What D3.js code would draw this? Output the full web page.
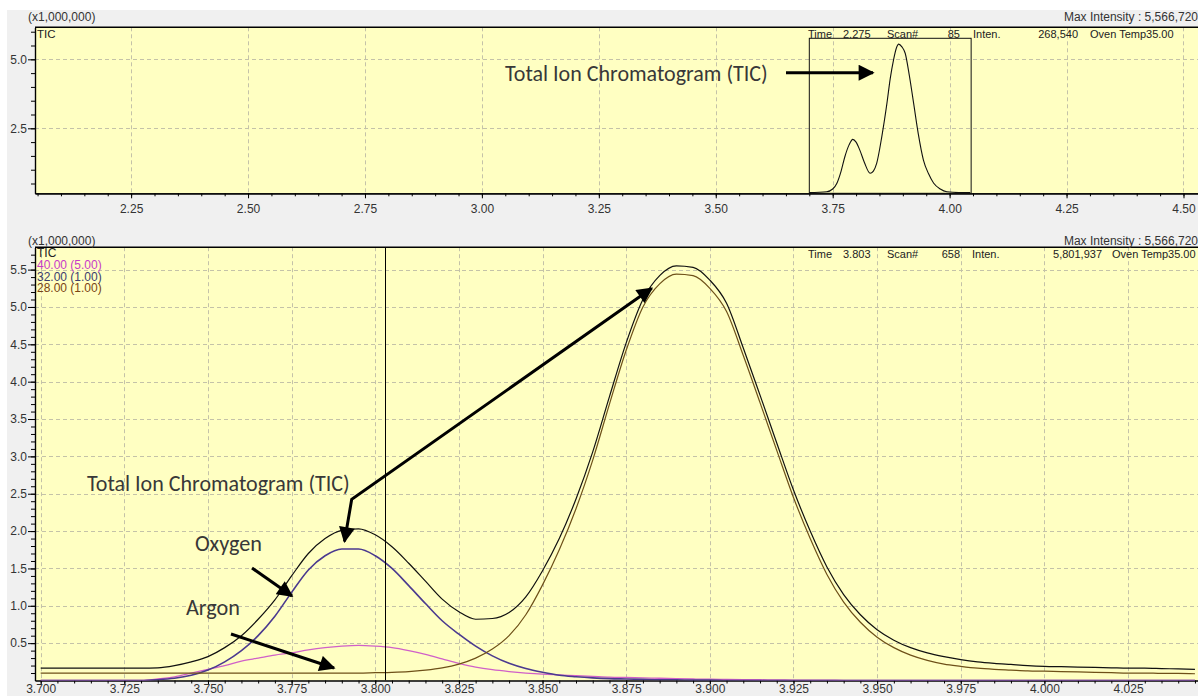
<!DOCTYPE html>
<html>
<head>
<meta charset="utf-8">
<script src="https://cdn.jsdelivr.net/npm/d3@7"></script>
<style>
  html, body { margin: 0; padding: 0; background: #ffffff; }
  svg { display: block; }
</style>
</head>
<body>
<svg id="chart" width="1198" height="696"></svg>
<script>
// ---------- data (intensities in millions of counts) ----------
// overview TIC trace, coarse scan
const overviewTime = [3.700, 3.737, 3.750, 3.759, 3.768, 3.776, 3.785, 3.793, 3.800, 3.808, 3.818, 3.830, 3.837, 3.844,
  3.855, 3.866, 3.873, 3.880, 3.886, 3.891, 3.898, 3.905, 3.914, 3.923, 3.933, 3.944, 3.955, 3.966, 3.980, 3.994, 4.020, 4.044];
const overviewTic = [0.17, 0.20, 0.30, 0.51, 0.95, 1.47, 1.90, 2.10, 2.00, 1.71, 1.25, 0.87, 0.95, 1.23,
  2.20, 3.41, 4.30, 4.97, 5.40, 5.55, 5.45, 5.22, 4.40, 3.41, 2.30, 1.35, 0.85, 0.51, 0.30, 0.20, 0.17, 0.17];

// detail window, retention time in minutes
const scanTime = [3.700, 3.705, 3.710, 3.715, 3.720, 3.725, 3.730, 3.735, 3.740, 3.745,
  3.750, 3.755, 3.760, 3.765, 3.770, 3.775, 3.780, 3.785, 3.790, 3.795,
  3.800, 3.805, 3.810, 3.815, 3.820, 3.825, 3.830, 3.835, 3.840, 3.845,
  3.850, 3.855, 3.860, 3.865, 3.870, 3.875, 3.880, 3.885, 3.890, 3.895,
  3.900, 3.905, 3.910, 3.915, 3.920, 3.925, 3.930, 3.935, 3.940, 3.945,
  3.950, 3.955, 3.960, 3.965, 3.970, 3.975, 3.980, 3.985, 3.990, 3.995,
  4.000, 4.005, 4.010, 4.015, 4.020, 4.025, 4.030, 4.035, 4.040, 4.045];
const ticSignal = [0.165, 0.165, 0.165, 0.165, 0.165, 0.165, 0.165, 0.17, 0.20, 0.25,
  0.32, 0.44, 0.60, 0.82, 1.08, 1.40, 1.70, 1.90, 2.01, 2.03,
  1.95, 1.79, 1.57, 1.33, 1.09, 0.92, 0.82, 0.83, 0.91, 1.12,
  1.47, 1.90, 2.43, 3.06, 3.80, 4.52, 5.10, 5.42, 5.55, 5.53,
  5.36, 5.05, 4.45, 3.82, 3.18, 2.55, 2.00, 1.52, 1.15, 0.88,
  0.68, 0.54, 0.44, 0.37, 0.32, 0.28, 0.25, 0.23, 0.215, 0.20,
  0.19, 0.185, 0.18, 0.175, 0.17, 0.165, 0.165, 0.16, 0.155, 0.15];
// m/z 40 (argon), shown at 5x
const mz40 = [0, 0, 0, 0, 0, 0, 0, 0.02, 0.05, 0.10,
  0.15, 0.20, 0.26, 0.30, 0.34, 0.37, 0.41, 0.44, 0.46, 0.47,
  0.46, 0.44, 0.40, 0.35, 0.29, 0.23, 0.18, 0.145, 0.12, 0.10,
  0.085, 0.075, 0.065, 0.055, 0.045, 0.04, 0.035, 0.03, 0.025, 0.02,
  0.018, 0.015, 0.012, 0.01, 0.008, 0.006, 0.005, 0.004, 0.003, 0.002,
  0, 0, 0, 0, 0, 0, 0, 0, 0, 0,
  0, 0, 0, 0, 0, 0, 0, 0, 0, 0];
// m/z 32 (oxygen)
const mz32 = [0, 0, 0, 0, 0, 0, 0, 0.01, 0.03, 0.07,
  0.14, 0.25, 0.40, 0.60, 0.86, 1.18, 1.48, 1.67, 1.76, 1.76,
  1.67, 1.50, 1.27, 1.03, 0.80, 0.62, 0.46, 0.33, 0.23, 0.16,
  0.11, 0.07, 0.05, 0.035, 0.025, 0.02, 0.015, 0.01, 0.01, 0.005,
  0.005, 0, 0, 0, 0, 0, 0, 0, 0, 0,
  0, 0, 0, 0, 0, 0, 0, 0, 0, 0,
  0, 0, 0, 0, 0, 0, 0, 0, 0, 0];
// m/z 28 (nitrogen)
const mz28 = [0.10, 0.10, 0.10, 0.10, 0.10, 0.10, 0.10, 0.10, 0.10, 0.10,
  0.10, 0.10, 0.10, 0.10, 0.10, 0.10, 0.10, 0.10, 0.10, 0.10,
  0.105, 0.11, 0.12, 0.14, 0.17, 0.22, 0.30, 0.42, 0.60, 0.88,
  1.28, 1.75, 2.30, 2.95, 3.70, 4.42, 5.00, 5.31, 5.44, 5.42,
  5.25, 4.94, 4.35, 3.72, 3.08, 2.45, 1.90, 1.42, 1.05, 0.78,
  0.58, 0.44, 0.34, 0.27, 0.22, 0.19, 0.165, 0.15, 0.14, 0.13,
  0.125, 0.12, 0.115, 0.11, 0.105, 0.10, 0.10, 0.095, 0.095, 0.09];

const overviewXTicks = [2.25, 2.50, 2.75, 3.00, 3.25, 3.50, 3.75, 4.00, 4.25, 4.50];
const overviewYTicks = [2.5, 5.0];
const detailXTicks = [3.700, 3.725, 3.750, 3.775, 3.800, 3.825, 3.850, 3.875, 3.900, 3.925, 3.950, 3.975, 4.000, 4.025];
const detailYTicks = [0.5, 1.0, 1.5, 2.0, 2.5, 3.0, 3.5, 4.0, 4.5, 5.0, 5.5];

const legendLabels = ["TIC", "40.00 (5.00)", "32.00 (1.00)", "28.00 (1.00)"];
const legendColors = ["#222222", "#c83cc8", "#3c3c6e", "#7a4412"];
const windowRange = [3.700, 4.046];
const cursorTime = 3.803;

// ---------- setup ----------
const svg = d3.select("#chart");
const SMALL = "'Liberation Sans', Arial, sans-serif";
const NOTE = "Carlito, Lato, 'Open Sans', sans-serif";

svg.append("rect").attr("x", 7).attr("y", 10).attr("width", 1191).attr("height", 686).attr("fill", "#f0f0f0");

const defs = svg.append("defs");
defs.append("marker").attr("id", "head")
  .attr("viewBox", "0 0 10 10").attr("refX", 9).attr("refY", 5)
  .attr("markerUnits", "userSpaceOnUse").attr("markerWidth", 17).attr("markerHeight", 16)
  .attr("orient", "auto")
  .append("path").attr("d", "M0,0 L10,5 L0,10 Z").attr("fill", "#000");
defs.append("marker").attr("id", "headStart")
  .attr("viewBox", "0 0 10 10").attr("refX", 1).attr("refY", 5)
  .attr("markerUnits", "userSpaceOnUse").attr("markerWidth", 17).attr("markerHeight", 16)
  .attr("orient", "auto")
  .append("path").attr("d", "M10,0 L0,5 L10,10 Z").attr("fill", "#000");

const P1 = { x0: 35, x1: 1205, y0: 27.3, y1: 193.3 };
const P2 = { x0: 35, x1: 1205, y0: 247.2, y1: 680.5 };

const x1 = d3.scaleLinear().domain([2.0445, 4.546]).range([P1.x0, P1.x1]);
const y1 = d3.scaleLinear().domain([0.145, 6.16]).range([P1.y1, P1.y0]);
const x2 = d3.scaleLinear().domain([3.6983, 4.048]).range([P2.x0, P2.x1]);
const y2 = d3.scaleLinear().domain([0, 5.8]).range([P2.y1, P2.y0]);

function panel(P, id) {
  svg.append("rect").attr("x", P.x0).attr("y", P.y0).attr("width", P.x1 - P.x0).attr("height", P.y1 - P.y0)
    .attr("fill", "#ffffc2");
  defs.append("clipPath").attr("id", id).append("rect")
    .attr("x", P.x0).attr("y", P.y0 - 1).attr("width", P.x1 - P.x0).attr("height", P.y1 - P.y0 + 1);
}
panel(P1, "clip1");
panel(P2, "clip2");

function grid(P, xs, ys, xt, yt) {
  const g = svg.append("g").attr("stroke", "#c4c2a8").attr("stroke-width", 1).attr("stroke-dasharray", "4,3");
  xt.forEach(v => g.append("line").attr("x1", Math.round(xs(v)) + 0.5).attr("x2", Math.round(xs(v)) + 0.5)
    .attr("y1", P.y0).attr("y2", P.y1));
  yt.forEach(v => g.append("line").attr("y1", Math.round(ys(v)) + 0.5).attr("y2", Math.round(ys(v)) + 0.5)
    .attr("x1", P.x0).attr("x2", P.x1));
}
grid(P1, x1, y1, overviewXTicks, overviewYTicks);
grid(P2, x2, y2, detailXTicks, detailYTicks);

function styleAxis(g) {
  g.selectAll("path.domain").attr("stroke", "#000").attr("stroke-width", 1.2);
  g.selectAll(".tick line").attr("stroke", "#000");
  g.selectAll("text").attr("font-family", SMALL).attr("font-size", 12).attr("fill", "#333");
}

function axes(P, xs, ys, xt, yt, xMinor, yMinor, xfmt, xMajorLen, xPad) {
  // minor ticks
  svg.append("g").attr("transform", `translate(0,${P.y1})`)
    .call(d3.axisBottom(xs).tickValues(xMinor).tickSize(3).tickSizeOuter(0).tickFormat(""))
    .call(styleAxis);
  svg.append("g").attr("transform", `translate(${P.x0},0)`)
    .call(d3.axisLeft(ys).tickValues(yMinor).tickSize(4).tickSizeOuter(0).tickFormat(""))
    .call(styleAxis);
  // major ticks with labels
  svg.append("g").attr("transform", `translate(0,${P.y1})`)
    .call(d3.axisBottom(xs).tickValues(xt).tickSize(xMajorLen).tickPadding(xPad).tickSizeOuter(0).tickFormat(d3.format(xfmt)))
    .call(styleAxis);
  svg.append("g").attr("transform", `translate(${P.x0},0)`)
    .call(d3.axisLeft(ys).tickValues(yt).tickSize(7).tickPadding(1).tickSizeOuter(0).tickFormat(d3.format(".1f")))
    .call(styleAxis);
  // top frame line
  svg.append("line").attr("x1", P.x0).attr("x2", P.x1).attr("y1", P.y0).attr("y2", P.y0)
    .attr("stroke", "#000").attr("stroke-width", 1.4);
}
axes(P1, x1, y1, overviewXTicks, overviewYTicks,
  d3.range(2.05, 4.55, 0.05), d3.range(0.5, 6.01, 0.5), ".2f", 5, 6);
axes(P2, x2, y2, detailXTicks, detailYTicks,
  d3.range(3.700, 4.046, 0.005), d3.range(0.1, 5.75, 0.1), ".3f", 4, 0);

// ---------- traces ----------
const lineOver = d3.line().x((d, i) => x1(overviewTime[i])).y(d => y1(d)).curve(d3.curveMonotoneX);
const g1 = svg.append("g").attr("clip-path", "url(#clip1)");
g1.append("path").attr("d", lineOver(overviewTic)).attr("fill", "none").attr("stroke", "#111").attr("stroke-width", 1.1);
// detail window marker on the overview
g1.append("rect").attr("x", x1(windowRange[0])).attr("y", 38.3)
  .attr("width", x1(windowRange[1]) - x1(windowRange[0])).attr("height", P1.y1 - 38.3)
  .attr("fill", "none").attr("stroke", "#111").attr("stroke-width", 1);

const lineDet = d3.line().x((d, i) => x2(scanTime[i])).y(d => y2(d)).curve(d3.curveMonotoneX);
const g2 = svg.append("g").attr("clip-path", "url(#clip2)");
const series = [
  { v: mz40, c: "#d060c8", w: 1.3 },
  { v: mz32, c: "#4b3a8f", w: 1.6 },
  { v: mz28, c: "#6e5018", w: 1.2 },
  { v: ticSignal, c: "#111111", w: 1.2 }
];
series.forEach(s => g2.append("path").attr("d", lineDet(s.v)).attr("fill", "none")
  .attr("stroke", s.c).attr("stroke-width", s.w).attr("stroke-linejoin", "round"));
// cursor
g2.append("line").attr("x1", Math.round(x2(cursorTime)) + 0.5).attr("x2", Math.round(x2(cursorTime)) + 0.5)
  .attr("y1", P2.y0).attr("y2", P2.y1).attr("stroke", "#000").attr("stroke-width", 1);

// ---------- header texts ----------
function txt(x, y, s, opts = {}) {
  return svg.append("text").attr("x", x).attr("y", y).text(s)
    .attr("font-family", opts.font || SMALL).attr("font-size", opts.size || 12)
    .attr("fill", opts.fill || "#222").attr("text-anchor", opts.anchor || "start");
}
txt(28, 21, "(x1,000,000)", { fill: "#333" });
txt(1198, 21, "Max Intensity : 5,566,720", { anchor: "end", fill: "#333" });
txt(28, 245, "(x1,000,000)", { fill: "#333" });
txt(1198, 245, "Max Intensity : 5,566,720", { anchor: "end", fill: "#333" });

txt(37, 38, "TIC", { size: 11.5 });
legendLabels.forEach((s, i) => txt(37, 257 + i * 11.8, s, { size: 12, fill: legendColors[i] }));

// overview header
txt(808, 38, "Time", { size: 11 });
txt(843, 38, "2.275", { size: 11 });
txt(887, 38, "Scan#", { size: 11 });
txt(960, 38, "85", { size: 11, anchor: "end" });
txt(973, 38, "Inten.", { size: 11 });
txt(1078, 38, "268,540", { size: 11, anchor: "end" });
txt(1090, 38, "Oven Temp35.00", { size: 11 });
// detail header
txt(808, 258, "Time", { size: 11 });
txt(843, 258, "3.803", { size: 11 });
txt(887, 258, "Scan#", { size: 11 });
txt(960, 258, "658", { size: 11, anchor: "end" });
txt(972, 258, "Inten.", { size: 11 });
txt(1102, 258, "5,801,937", { size: 11, anchor: "end" });
txt(1112, 258, "Oven Temp35.00", { size: 11 });

// ---------- annotations ----------
function note(x, y, s, width) {
  const t = svg.append("text").attr("x", x).attr("y", y).attr("dy", "0.35em").text(s)
    .attr("font-family", NOTE).attr("font-size", 20).attr("fill", "#383838");
  const w = t.node().getComputedTextLength();
  t.attr("font-size", 20 * width / w);
  return t;
}
note(505, 73, "Total Ion Chromatogram (TIC)", 263);
note(87, 483, "Total Ion Chromatogram (TIC)", 263);
note(195, 543, "Oxygen", 67);
note(186, 607, "Argon", 54);

function arrow(pts, startHead) {
  const p = svg.append("path").attr("d", d3.line()(pts)).attr("fill", "none")
    .attr("stroke", "#000").attr("stroke-width", 3).attr("marker-end", "url(#head)");
  if (startHead) p.attr("marker-start", "url(#headStart)");
  return p;
}
arrow([[786, 72.7], [873, 72.7]]);
arrow([[344.5, 541.5], [351.7, 499.3], [651.7, 288.3]], true);
arrow([[252, 568], [292, 596]]);
arrow([[231, 634], [334, 668]]);
</script>
</body>
</html>
